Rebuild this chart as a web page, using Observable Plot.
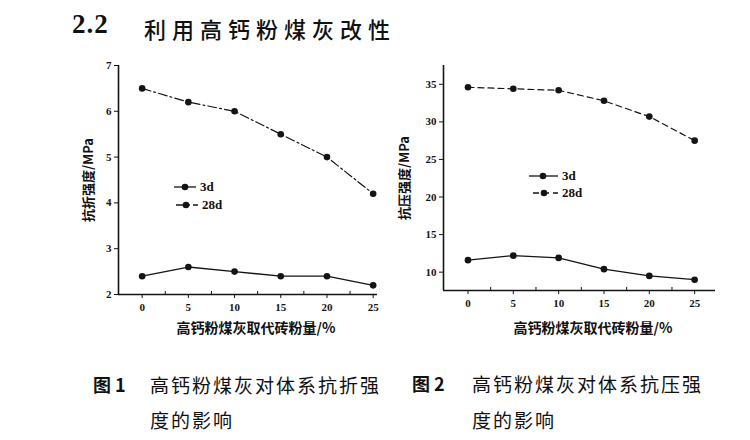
<!DOCTYPE html>
<html>
<head>
<meta charset="utf-8">
<script src="https://cdn.jsdelivr.net/npm/d3@7"></script>
<script src="https://cdn.jsdelivr.net/npm/@observablehq/plot@0.6"></script>
<style>
  html, body { margin: 0; padding: 0; background: #fff; }
  #page { position: relative; width: 750px; height: 440px; overflow: hidden; background: #fff; color: #111; }
  .abs { position: absolute; white-space: nowrap; }
  .cjk { font-family: "Noto Sans CJK SC", sans-serif; }
  .ylab { font-family: "Noto Sans CJK SC", sans-serif; font-weight: 700; font-size: 13px; transform: translate(-50%, -50%) rotate(-90deg); }
  .xlab { font-family: "Noto Sans CJK SC", sans-serif; font-weight: 700; font-size: 14px; transform: translate(-50%, -50%); }
  .cap { font-family: "Noto Sans CJK SC", sans-serif; font-size: 19px; letter-spacing: 2px; transform: translateY(-50%); }
  .legtxt { font-family: "Liberation Serif", serif; font-weight: 700; font-size: 13px; transform: translateY(-50%); }
</style>
</head>
<body>
<div id="page"></div>
<script>
// ---- data ----
const dosage = [0, 5, 10, 15, 20, 25];           // 高钙粉煤灰取代砖粉量 / %
const flexural3d  = [2.4, 2.6, 2.5, 2.4, 2.4, 2.2];      // 抗折强度 3d, MPa
const flexural28d = [6.5, 6.2, 6.0, 5.5, 5.0, 4.2];      // 抗折强度 28d, MPa
const compress3d  = [11.6, 12.2, 11.9, 10.4, 9.5, 9.0];  // 抗压强度 3d, MPa
const compress28d = [34.6, 34.4, 34.2, 32.8, 30.7, 27.5];// 抗压强度 28d, MPa
const flexTicks = [2, 3, 4, 5, 6, 7];
const compTicks = [10, 15, 20, 25, 30, 35];
const minorX = [2.5, 7.5, 12.5, 17.5, 22.5];
const seriesNames = ["3d", "28d"];
const titleNum = "2.2";
const titleText = "利用高钙粉煤灰改性";
const xLabel = "高钙粉煤灰取代砖粉量/%";
const yLabel1 = "抗折强度/MPa";
const yLabel2 = "抗压强度/MPa";
const cap1 = ["图 1", "高钙粉煤灰对体系抗折强", "度的影响"];
const cap2 = ["图 2", "高钙粉煤灰对体系抗压强", "度的影响"];

const page = document.getElementById("page");
const INK = "#141414";

function el(cls, text, style) {
  const d = document.createElement("div");
  d.className = "abs " + cls;
  d.textContent = text;
  Object.assign(d.style, style);
  page.appendChild(d);
  return d;
}

function makeChart(o) {
  const rows = (vals) => dosage.map((x, i) => ({x, y: vals[i]}));
  const d3d = rows(o.s3), d28 = rows(o.s28);
  const y0 = o.yDomain[0];
  const svg = Plot.plot({
    width: o.width, height: o.height,
    marginLeft: o.ml, marginRight: o.mr, marginTop: o.mt, marginBottom: o.mb,
    x: {domain: o.xDomain, label: null},
    y: {domain: o.yDomain, label: null},
    style: {fontFamily: "'Liberation Serif', serif", fontWeight: "bold", fontSize: "11px", color: INK, background: "transparent", overflow: "visible"},
    marks: [
      Plot.ruleX([o.xDomain[0]], {stroke: INK, strokeWidth: 1.6}),
      Plot.ruleY([y0], {stroke: INK, strokeWidth: 1.6}),
      Plot.axisX({ticks: dosage, tickSize: 4, tickPadding: 5, tickFormat: d => String(d), fontWeight: "bold", label: null}),
      Plot.ruleX(minorX, {x: d => d, y1: y0, y2: y0, insetTop: -3, stroke: INK}),
      Plot.axisY({ticks: o.yTicks, tickSize: 4, tickPadding: 3, tickFormat: d => String(d), fontWeight: "bold", label: null}),
      Plot.line(d3d, {x: "x", y: "y", stroke: INK, strokeWidth: 1.3}),
      Plot.dot(d3d, {x: "x", y: "y", r: 3.3, fill: INK}),
      Plot.line(d28, {x: "x", y: "y", stroke: INK, strokeWidth: 1.2, strokeDasharray: o.dash}),
      Plot.dot(d28, {x: "x", y: "y", r: 3.3, fill: INK})
    ]
  });
  svg.style.position = "absolute";
  svg.style.left = o.left + "px";
  svg.style.top = o.top + "px";
  page.appendChild(svg);

  // legend (HTML overlay)
  o.legend.forEach((L, i) => {
    const s = document.createElementNS("http://www.w3.org/2000/svg", "svg");
    s.setAttribute("width", L.w); s.setAttribute("height", 10);
    s.style.position = "absolute"; s.style.left = L.x + "px"; s.style.top = (L.y - 5) + "px";
    s.innerHTML = `<line x1="0" y1="5" x2="${L.w}" y2="5" stroke="${INK}" stroke-width="1.3" ${i === 1 ? `stroke-dasharray="${o.dash}"` : ""}/>` +
                  `<circle cx="${L.m}" cy="5" r="3.3" fill="${INK}"/>`;
    page.appendChild(s);
    el("legtxt", seriesNames[i], {left: (L.x + L.w + 4) + "px", top: L.y + "px"});
  });
}

// Title
el("", titleNum, {left: "72px", top: "9px", fontFamily: "'Liberation Serif', serif", fontWeight: "bold", fontSize: "27px", letterSpacing: "1px"});
el("cjk", titleText, {left: "144px", top: "12px", fontSize: "22px", fontWeight: "500", letterSpacing: "6px"});

// Chart 1: flexural
makeChart({
  left: 60, top: 55, width: 330, height: 280,
  ml: 58, mr: 13, mt: 10, mb: 41,
  xDomain: [-2.56, 25.47], yDomain: [2, 7], yTicks: flexTicks,
  s3: flexural3d, s28: flexural28d, dash: "9,3,2,3",
  legend: [{x: 174, y: 187, w: 22, m: 11}, {x: 176, y: 205, w: 22, m: 10}]
});
// Chart 2: compressive
makeChart({
  left: 395, top: 55, width: 340, height: 280,
  ml: 48, mr: 20, mt: 10, mb: 45,
  xDomain: [-2.7, 27.3], yDomain: [7.56, 37.5], yTicks: compTicks,
  s3: compress3d, s28: compress28d, dash: "6,4",
  legend: [{x: 529, y: 176, w: 29, m: 14}, {x: 533, y: 193, w: 25, m: 11}]
});

// Axis labels
el("ylab", yLabel1, {left: "87px", top: "180px"});
el("ylab", yLabel2, {left: "403px", top: "178px"});
el("xlab", xLabel, {left: "256px", top: "327px"});
el("xlab", xLabel, {left: "593px", top: "327px"});

// Captions
el("cap", cap1[0], {left: "93px", top: "384px", fontWeight: "700", fontSize: "18px", letterSpacing: "0"});
el("cap", cap1[1], {left: "150px", top: "384px"});
el("cap", cap1[2], {left: "150px", top: "419px"});
el("cap", cap2[0], {left: "412px", top: "383px", fontWeight: "700", fontSize: "18px", letterSpacing: "0"});
el("cap", cap2[1], {left: "472px", top: "383px"});
el("cap", cap2[2], {left: "472px", top: "419px"});
</script>
</body>
</html>
